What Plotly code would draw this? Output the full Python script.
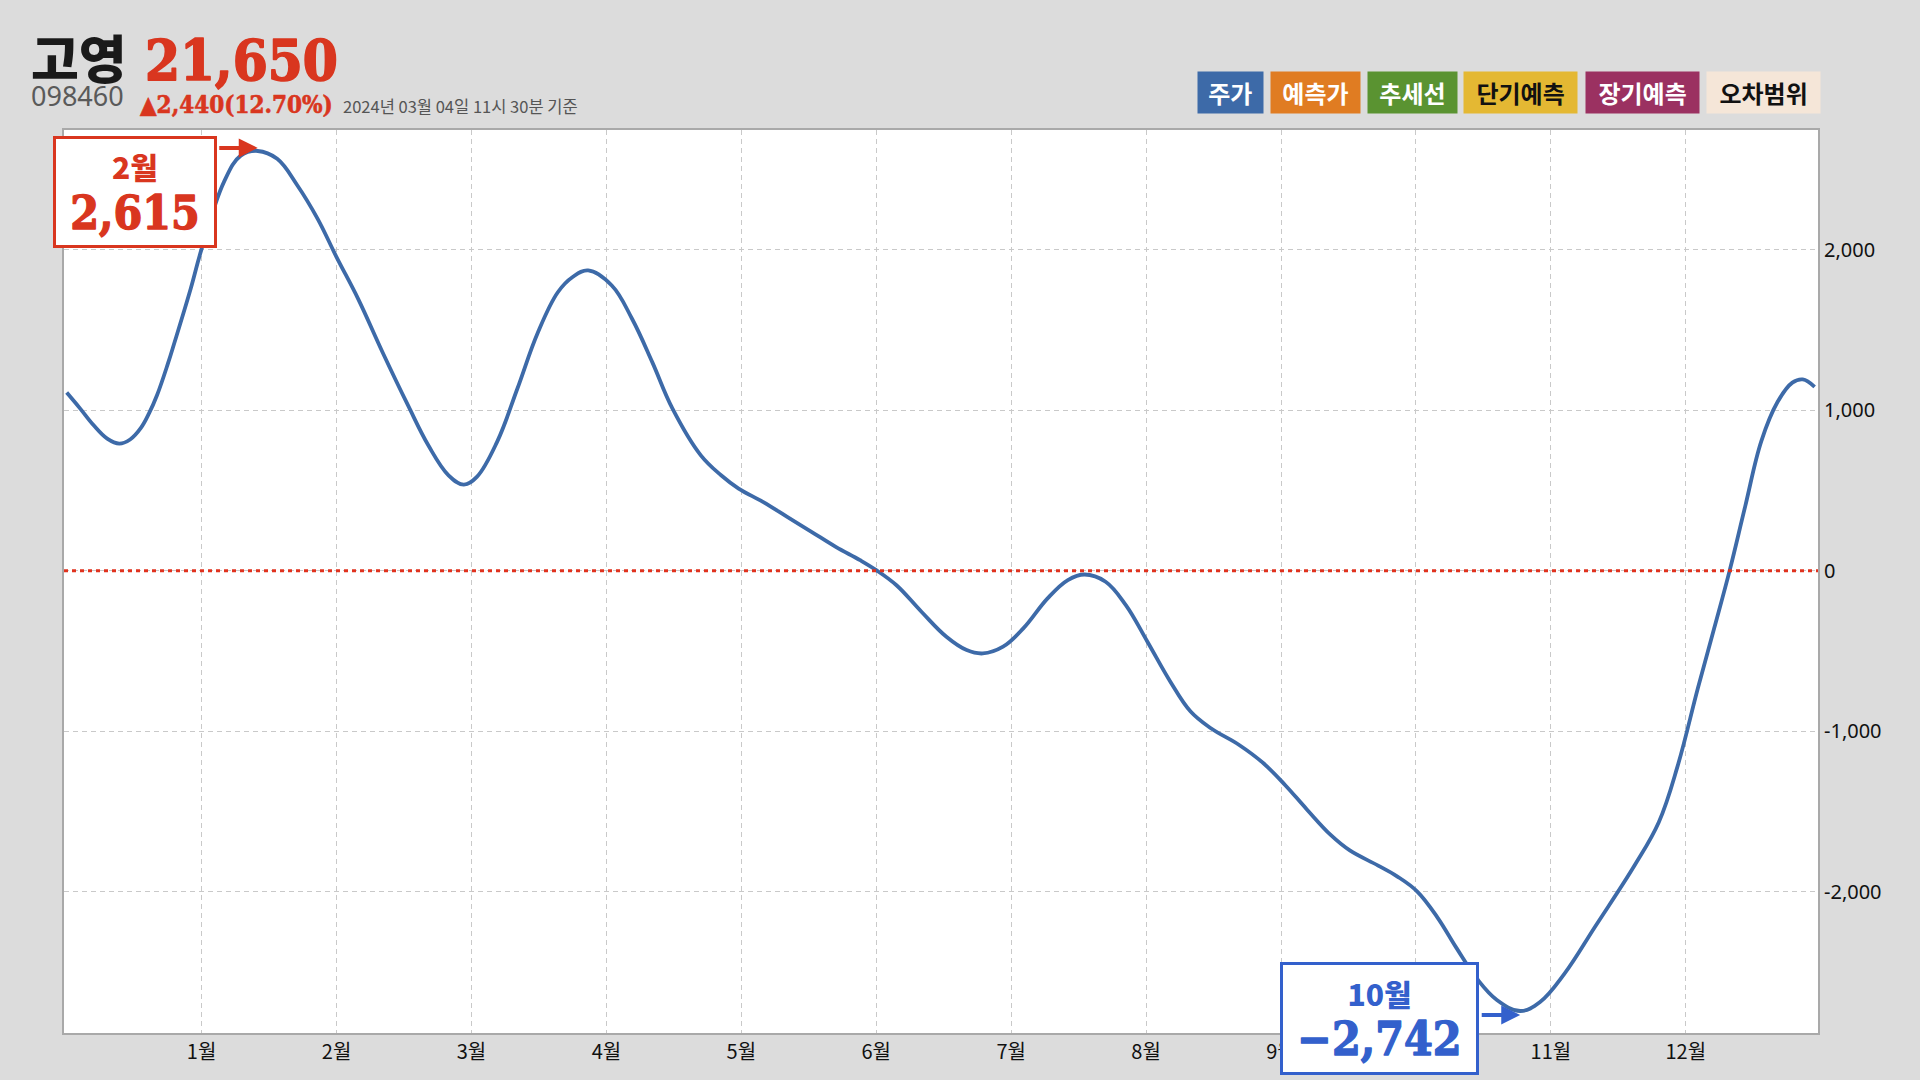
import plotly.graph_objects as go

# ---------------- data ----------------
stock_name = "고영"
stock_code = "098460"
price_text = "21,650"
change_text = "▲2,440(12.70%)"
timestamp_text = "2024년 03월 04일 11시 30분 기준"

month_ticks = list(range(1, 13))
month_labels = [f"{m}월" for m in month_ticks]
y_ticks = [-2000, -1000, 0, 1000, 2000]

x_pos = [0.00, 0.10, 0.20, 0.30, 0.39, 0.47, 0.55, 0.61, 0.67, 0.75,
         0.80, 0.92, 1.00, 1.165, 1.29,
         1.416, 1.56, 1.71, 1.86, 2.00, 2.16, 2.34, 2.53, 2.68, 2.83,
         2.943, 3.04, 3.19, 3.34, 3.49, 3.64, 3.75, 3.865, 4.04, 4.19, 4.34,
         4.49, 4.70, 4.85, 4.98, 5.16, 5.34, 5.52, 5.70, 5.88, 6.00,
         6.15, 6.335, 6.52, 6.67, 6.79, 6.94, 7.09, 7.27, 7.42, 7.544,
         7.70, 7.85, 8.01, 8.18, 8.33, 8.48, 8.69, 8.87, 9.03, 9.19,
         9.37, 9.51, 9.72, 9.86, 10.01, 10.16, 10.30, 10.45, 10.60, 10.773,
         10.92, 11.10, 11.33, 11.62, 11.80, 11.94, 12.09, 12.21, 12.325, 12.44,
         12.56, 12.68, 12.79, 12.867, 12.955]
values = [1110, 1010, 906, 823, 792, 818, 890, 980, 1095, 1290,
          1425, 1760, 2005, 2421, 2586,
          2615, 2566, 2400, 2192, 1954, 1694, 1363, 1030, 782, 595,
          537, 585, 803, 1134, 1480, 1735, 1830, 1871, 1777, 1570, 1300,
          1010, 719, 595, 512, 429, 336, 243, 149, 66, 4,
          -90, -255, -411, -494, -515, -473, -359, -172, -58, -23,
          -68, -214, -442, -691, -877, -981, -1085, -1199, -1334, -1485,
          -1647, -1742, -1836, -1903, -1998, -2160, -2349, -2538, -2673, -2742,
          -2686, -2511, -2214, -1836, -1566, -1215, -730, -360, 1, 400,
          808, 1051, 1172, 1192, 1146]

peak_label = "2월"
trough_label = "10월"

legend_labels = ["주가", "예측가", "추세선", "단기예측", "장기예측", "오차범위"]
legend_colors = ["#3d6aa8", "#e07c22", "#5a9331", "#e4b833", "#9b3161", "#f5e6d8"]
legend_text_colors = ["#ffffff", "#ffffff", "#ffffff", "#111111", "#ffffff", "#111111"]

# ---------------- styling ----------------
RED = "#d9361f"
BLUE = "#3360cc"
LINE = "#3d6aa8"
BG = "#dcdcdc"
KR = "Noto Sans CJK KR"
SERIF = "DejaVu Serif Condensed, DejaVu Serif"

W, H = 1920, 1080
ML, MR, MT, MB = 64, 102, 130, 47
PW = W - ML - MR
PH = H - MT - MB


def px_x(p):
    return (p - ML) / PW


def px_y(p):
    return (H - MB - p) / PH


def heavy(text, color, sw):
    return f"<span style='stroke:{color};stroke-width:{sw}px;stroke-linejoin:round'>{text}</span>"


vmax = max(values)
vmin = min(values)
i_max = values.index(vmax)
i_min = values.index(vmin)

fig = go.Figure()
fig.add_trace(go.Scatter(
    x=x_pos, y=values, mode="lines",
    line=dict(color=LINE, width=3.8, shape="spline", smoothing=1.1),
    hoverinfo="skip", showlegend=False,
))

fig.add_hline(y=0, line=dict(color="#e0321e", width=3, dash="4px,4px"), layer="above")

fig.update_layout(
    width=W, height=H,
    paper_bgcolor=BG, plot_bgcolor="#ffffff",
    margin=dict(l=ML, r=MR, t=MT, b=MB, pad=0),
    showlegend=False,
    xaxis=dict(
        range=[-0.02, 12.98], tickmode="array", tickvals=month_ticks, ticktext=month_labels,
        showgrid=True, gridcolor="#c9c9c9", gridwidth=1, griddash="5px,4px",
        showline=True, linecolor="#a9a9a9", linewidth=2, mirror=True,
        ticks="", zeroline=False,
        tickfont=dict(family=KR, size=20, color="#111111"),
    ),
    yaxis=dict(
        range=[vmin * 1.05, vmax * 1.05], side="right",
        tickmode="array", tickvals=y_ticks, ticktext=[f"{v:,}" for v in y_ticks],
        showgrid=True, gridcolor="#c9c9c9", gridwidth=1, griddash="5px,4px",
        showline=True, linecolor="#a9a9a9", linewidth=2, mirror=True,
        ticks="", zeroline=False,
        tickfont=dict(family="Noto Sans", size=20, color="#111111"),
    ),
)

# ---------------- header ----------------
def header(text, left_px, cy_px, family, size, color, weight="normal"):
    fig.add_annotation(
        xref="paper", yref="paper", x=px_x(left_px), y=px_y(cy_px),
        xanchor="left", yanchor="middle", showarrow=False, borderpad=0,
        text=text,
        font=dict(family=family, size=size, color=color, weight=weight),
    )

header(stock_name, 30, 57, KR, 52, "#1a1a1a", weight=900)
header(heavy(price_text, RED, 1.6), 144, 60, SERIF, 56, RED, weight="bold")
header(stock_code, 30, 96, "Noto Sans", 27, "#5a5a5a")
header(heavy(change_text, RED, 0.6), 139, 104, SERIF, 24, RED, weight="bold")
header(timestamp_text, 342, 106, KR, 16.5, "#555555")

# ---------------- legend boxes ----------------
gap = 8
right_edge = 1819
widths = [16 + 24.3 * len(lab) for lab in legend_labels]
left = right_edge - sum(widths) - gap * (len(widths) - 1)
for lab, col, tc, w in zip(legend_labels, legend_colors, legend_text_colors, widths):
    fig.add_annotation(
        xref="paper", yref="paper", x=px_x(left), y=px_y(92.5),
        xanchor="left", yanchor="middle", showarrow=False,
        width=w, height=41, borderpad=0, bgcolor=col,
        text=f"<b>{lab}</b>", font=dict(family=KR, size=24, color=tc),
    )
    left += w + gap

# ---------------- callout boxes ----------------
def callout(xv, yv, label, value_text, color, ax, ay, w, h, arrow_dy):
    fig.add_annotation(
        x=xv, y=yv, xref="x", yref="y",
        text=(f"<span style='font-family:{KR};font-size:30px;font-weight:900'>{label}</span><br>"
              f"<span style='font-family:{SERIF};font-size:46px;font-weight:bold;"
              f"stroke:{color};stroke-width:1.3px;stroke-linejoin:round'>{value_text}</span>"),
        showarrow=True, arrowcolor="rgba(0,0,0,0)", arrowwidth=0.1, ax=ax, ay=ay,
        width=w, height=h, bgcolor="#ffffff", bordercolor=color, borderwidth=3, borderpad=0,
        font=dict(family=KR, size=38, color=color), align="center", valign="middle",
    )
    fig.add_annotation(
        x=xv, y=yv, xref="x", yref="y", text="",
        showarrow=True, ax=-40, ay=0, arrowhead=2, arrowsize=0.95, arrowwidth=4,
        arrowcolor=color, standoff=0, yshift=arrow_dy,
    )

callout(x_pos[i_max], vmax, peak_label, f"{vmax:,}", RED, -123, 41, 158, 106, 3)
callout(x_pos[i_min], vmin, trough_label, f"{vmin:,}".replace("-", "−"), BLUE, -141, 8, 193, 107, -4)

fig.write_html(
    "out.html",
    config={"displayModeBar": False},
    post_script="document.body.style.margin='0';document.body.style.overflow='hidden';",
)
